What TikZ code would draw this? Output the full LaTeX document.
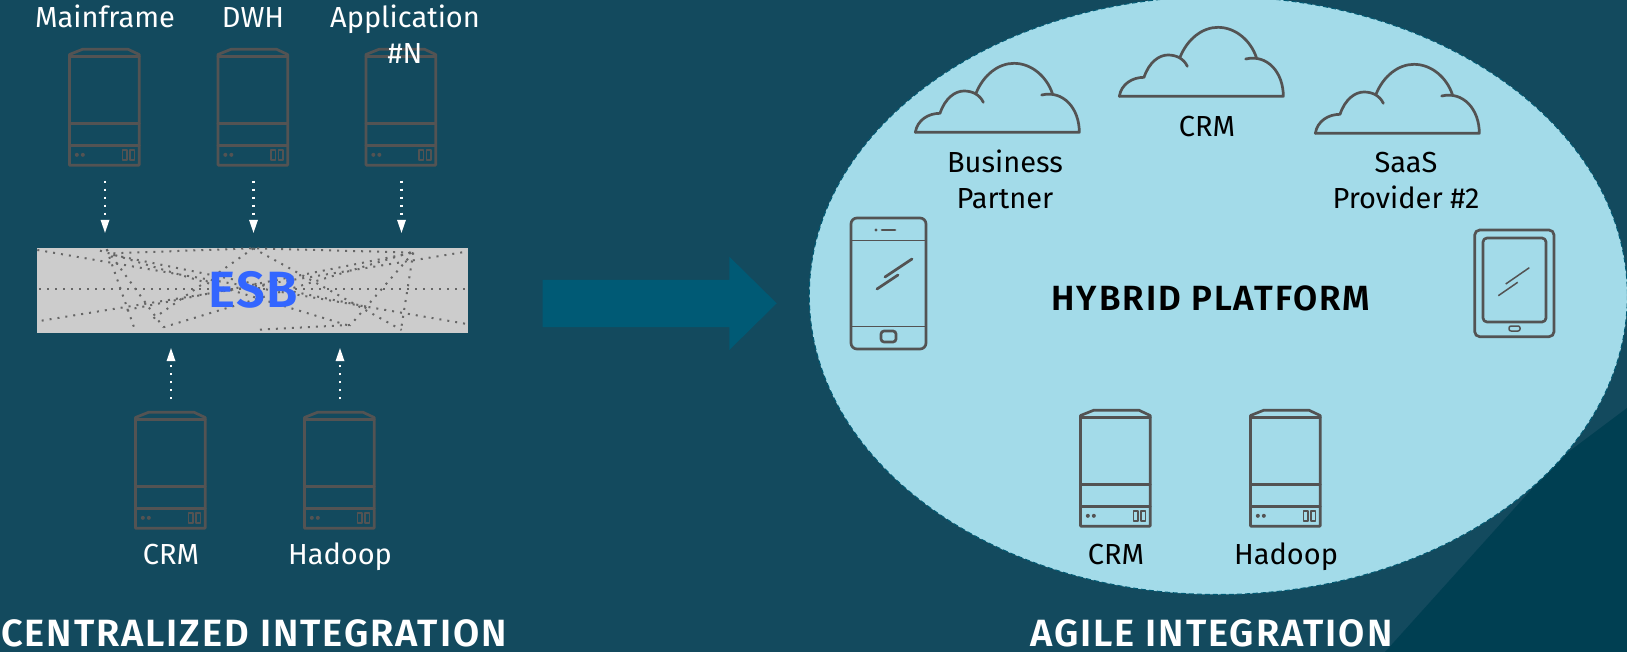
\documentclass[tikz,border=0pt]{standalone}
\usepackage{fontspec}
\setmainfont[BoldFont={Fira Sans SemiBold}]{Fira Sans}
\usetikzlibrary{arrows.meta}
\definecolor{bgc}{HTML}{134A5E}
\definecolor{cornerc}{HTML}{003F52}
\definecolor{ellc}{HTML}{A3DBE9}
\definecolor{ellline}{HTML}{005A74}
\definecolor{iconc}{HTML}{535353}
\definecolor{esbc}{HTML}{CCCCCC}
\definecolor{esbtext}{HTML}{3366FF}
\definecolor{dotc}{HTML}{666666}
\definecolor{bigarrow}{HTML}{005A75}
\tikzset{
  x=1pt,y=-1pt,
  icon/.style={draw=iconc,line width=2.7pt,line join=round,line cap=round},
  iconthin/.style={draw=iconc,line width=1.5pt,line join=round},
  esbdots/.style={draw=dotc,line width=2pt,dash pattern=on 2pt off 6pt},
  flow/.style={draw=white,line width=2.2pt,dash pattern=on 2.2pt off 5.8pt,
     -{Triangle[width=9pt,length=13pt,fill=white,line width=0pt,sep=0pt]}},
  lab/.style={text=white,font=\fontsize{29}{36}\selectfont,align=center,inner sep=0pt,anchor=base},
  darklab/.style={text=black,font=\fontsize{29}{36}\selectfont,align=center,inner sep=0pt,anchor=base},
  titlelab/.style={text=white,font=\fontsize{38}{44}\bfseries\addfontfeature{LetterSpace=5}\selectfont,inner sep=0pt},
  server/.pic={
    \node[minimum width=71pt,minimum height=117pt,inner sep=0pt,draw=none] (-box) at (0,0) {};
    \begin{scope}[shift={(-35.5,-58.5)},x=0.3333pt,y=-0.3333pt,shift={(-63,-30)}]
      \draw[icon] (63,380) -- (63,48) -- (103,32) -- (238,32) -- (272,48) -- (272,380) -- cycle;
      \draw[icon] (63,55) -- (272,55);
      \draw[icon] (63,254) -- (272,254);
      \draw[icon] (63,320) -- (272,320);
      \fill[iconc] (85,349) circle (6) (103,349) circle (6);
      \draw[iconthin] (222,334) rectangle (236,364);
      \draw[iconthin] (244,334) rectangle (258,364);
    \end{scope}
  },
  cloud/.pic={
    \begin{scope}[x=0.3333pt,y=-0.3333pt]
      \draw[icon] (46,337) .. controls (52,300) and (85,280) .. (120,280)
         .. controls (135,235) and (165,213) .. (192,213)
         .. controls (218,213) and (240,225) .. (250,247);
      \draw[icon] (228,220) .. controls (250,165) and (295,130) .. (342,130)
         .. controls (395,130) and (440,170) .. (457,220);
      \draw[icon] (425,225) .. controls (490,210) and (538,265) .. (538,337) -- (46,337);
    \end{scope}
  },
}
\begin{document}
\begin{tikzpicture}
\useasboundingbox (0,0) rectangle (1627,652);
\fill[bgc] (0,0) rectangle (1627,652);
\fill[cornerc] (1627,408) -- (1567,453) -- (1540,480) -- (1385,652) -- (1627,652) -- cycle;
% ellipse
\fill[ellc] (1218.3,295.5) ellipse [x radius=409,y radius=299];
\draw[ellline,line width=1pt,dash pattern=on 5pt off 3pt] (1218.3,295.5) ellipse [x radius=409,y radius=299];
% ESB
\node[fill=esbc,minimum width=431pt,minimum height=85pt,inner sep=0pt] (esb) at (252.5,290.5) {};
\begin{scope}[x=0.3333pt,y=-0.3333pt,shift={(0,690)}]
  \clip (111,54) rectangle (1420,310);
  \draw[esbdots] (112,60) -- (1412,284);
  \draw[esbdots] (125,272) -- (1400,65);
  \draw[esbdots] (118,176) -- (1395,176);
  \draw[esbdots] (340,70) -- (760,55) -- (1240,68);
  \draw[esbdots] (320,58) -- (407,306);
  \draw[esbdots] (300,62) -- (1050,288);
  \draw[esbdots] (320,58) -- (490,292);
  \draw[esbdots] (490,292) -- (1240,65);
  \draw[esbdots] (760,55) -- (447,275);
  \draw[esbdots] (760,55) -- (1205,300);
  \draw[esbdots] (1240,68) -- (1050,287);
  \draw[esbdots] (1240,68) -- (1203,300);
  \draw[esbdots] (380,240) -- (1240,68);
  \draw[esbdots] (340,75) -- (1100,230);
  \draw[esbdots] (780,299) -- (1050,285);
\end{scope}
\node[text=esbtext,font=\fontsize{51}{51}\bfseries\addfontfeature{LetterSpace=3}\selectfont,inner sep=0pt] (esblabel) at (253,290) {ESB};
% left servers
\pic (mf) at (105,107) {server};
\pic (dwh) at (253.5,107) {server};
\pic (app) at (401.5,107) {server};
\pic (crml) at (171,470) {server};
\pic (hadl) at (340,470) {server};
\node[lab] (t1) at (105,28) {Mainframe};
\node[lab] (t2) at (253,28) {DWH};
\node[lab] (t3) at (405,64) {Application\\\#N};
\node[lab] (t4) at (171,564) {CRM};
\node[lab] (t5) at (340,564) {Hadoop};
\foreach \s in {mf,dwh,app}
  \draw[flow,shorten <=15pt,shorten >=15pt] (\s-box.south) -- (\s-box.south |- esb.north);
\foreach \s in {crml,hadl}
  \draw[flow,shorten <=12pt,shorten >=15pt] (\s-box.north) -- (\s-box.north |- esb.south);
% big arrow
\fill[bigarrow] (542.7,280) -- (729.3,280) -- (729.3,256.7) -- (776.7,303.3) -- (729.3,350) -- (729.3,327) -- (542.7,327) -- cycle;
% clouds
\pic at (900,20) {cloud};
\pic at (1104,-16) {cloud};
\pic at (1300,21) {cloud};
\node[darklab] (c1) at (1005,209) {Business\\Partner};
\node[darklab] (c2) at (1207,136.5) {CRM};
\node[darklab] (c3) at (1406,209) {SaaS\\Provider \#2};
\node[text=black,font=\fontsize{35}{40}\bfseries\addfontfeature{LetterSpace=5.4}\selectfont,inner sep=0pt] (hp) at (1211,298) {HYBRID PLATFORM};
% phone
\draw[icon,rounded corners=6pt] (851,218) rectangle (926,349);
\draw[iconthin] (851,240.7) -- (926,240.7);
\draw[iconthin] (851,326.7) -- (926,326.7);
\fill[iconc] (876,230) circle (1.6);
\draw[icon] (882,230) -- (895,230);
\draw[icon,rounded corners=3pt] (881,331) rectangle (896,342);
\draw[icon] (885,277) -- (912,259);
\draw[icon] (877,289) -- (898,275);
% tablet
\draw[icon,rounded corners=5pt] (1474.7,230) rectangle (1554,336.7);
\draw[icon,rounded corners=4pt] (1483,238) rectangle (1546,322);
\draw[iconthin,rounded corners=2pt] (1509,326) rectangle (1520,331);
\draw[iconthin] (1505.7,284) -- (1529.3,267.7);
\draw[iconthin] (1498.3,295.7) -- (1517.7,282.3);
% right servers
\pic (crmr) at (1116,468) {server};
\pic (hadr) at (1286,468) {server};
\node[darklab] (t6) at (1116,564) {CRM};
\node[darklab] (t7) at (1286,564) {Hadoop};
% titles
\node[titlelab,anchor=west] (ti1) at (1,633) {CENTRALIZED INTEGRATION};
\node[titlelab,anchor=west] (ti2) at (1030,633) {AGILE INTEGRATION};
\end{tikzpicture}
\end{document}
